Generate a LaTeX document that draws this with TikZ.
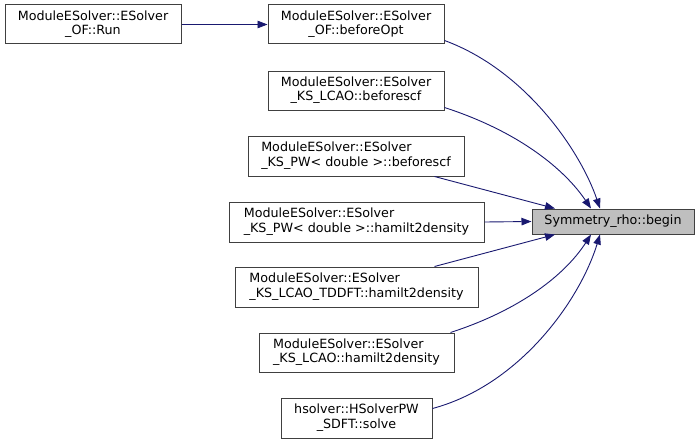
\documentclass[tikz,border=0pt]{standalone}
\usepackage{fontspec}
\setmainfont{DejaVu Sans}
\usetikzlibrary{arrows.meta}
\definecolor{edgec}{HTML}{191970}
\definecolor{boxc}{HTML}{404040}
\newcommand{\twolines}[2]{\begin{tabular}{@{}l@{}}#1\\\hfill#2\hfill\mbox{}\end{tabular}}
\begin{document}
\begin{tikzpicture}[x=1pt,y=-1pt,
  fn/.style={draw=boxc,line width=1pt,fill=white,inner sep=0pt,align=center,
    font=\fontsize{12.7}{14.8}\selectfont},
  cur/.style={fn,fill=black!25},
  call/.style={draw=edgec,line width=0.9pt,-{Triangle[length=10pt,width=7.5pt]}}]
\useasboundingbox (0,0) rectangle (700,444);
\node[fn,minimum width=176pt,minimum height=39pt] (run) at (93,24.5) {\twolines{ModuleESolver::ESolver}{\_OF::Run}};
\node[fn,minimum width=176pt,minimum height=39pt] (bo) at (356,24.5) {\twolines{ModuleESolver::ESolver}{\_OF::beforeOpt}};
\node[fn,minimum width=176pt,minimum height=39pt] (lb) at (356,90.5) {\twolines{ModuleESolver::ESolver}{\_KS\_LCAO::beforescf}};
\node[fn,minimum width=216pt,minimum height=40pt] (pb) at (356,156) {\twolines{ModuleESolver::ESolver}{\_KS\_PW< double >::beforescf}};
\node[fn,minimum width=255pt,minimum height=40pt] (ph) at (356.5,222) {\twolines{ModuleESolver::ESolver}{\_KS\_PW< double >::hamilt2density}};
\node[fn,minimum width=243pt,minimum height=40pt] (td) at (356.5,287) {\twolines{ModuleESolver::ESolver}{\_KS\_LCAO\_TDDFT::hamilt2density}};
\node[fn,minimum width=195pt,minimum height=39pt] (lh) at (356.5,352.5) {\twolines{ModuleESolver::ESolver}{\_KS\_LCAO::hamilt2density}};
\node[fn,minimum width=151pt,minimum height=40pt] (hs) at (356.5,418) {\twolines{hsolver::HSolverPW}{\_SDFT::solve}};
\node[cur,minimum width=162pt,minimum height=25pt] (tgt) at (613,221.5) {Symmetry\_rho::begin};
\draw[call] (run.east) -- (bo.west);
\draw[call] ([yshift=4pt]bo.south east) .. controls (525,70) and (580,150) .. ([xshift=-13pt]tgt.north);
\draw[call] ([yshift=3pt]lb.south east) .. controls (520,132) and (565,170) .. ([xshift=-22pt]tgt.north);
\draw[call] ([xshift=-30pt]pb.south east) -- ([xshift=-58pt]tgt.north);
\draw[call] (ph.east) -- (tgt.west);
\draw[call] ([xshift=-44pt]td.north east) -- ([xshift=-58pt]tgt.south);
\draw[call] ([xshift=-4pt]lh.north east) .. controls (520,310) and (565,275) .. ([xshift=-22pt]tgt.south);
\draw[call] ([yshift=-11pt]hs.north east) .. controls (520,385) and (580,300) .. ([xshift=-13pt]tgt.south);
\end{tikzpicture}
\end{document}
